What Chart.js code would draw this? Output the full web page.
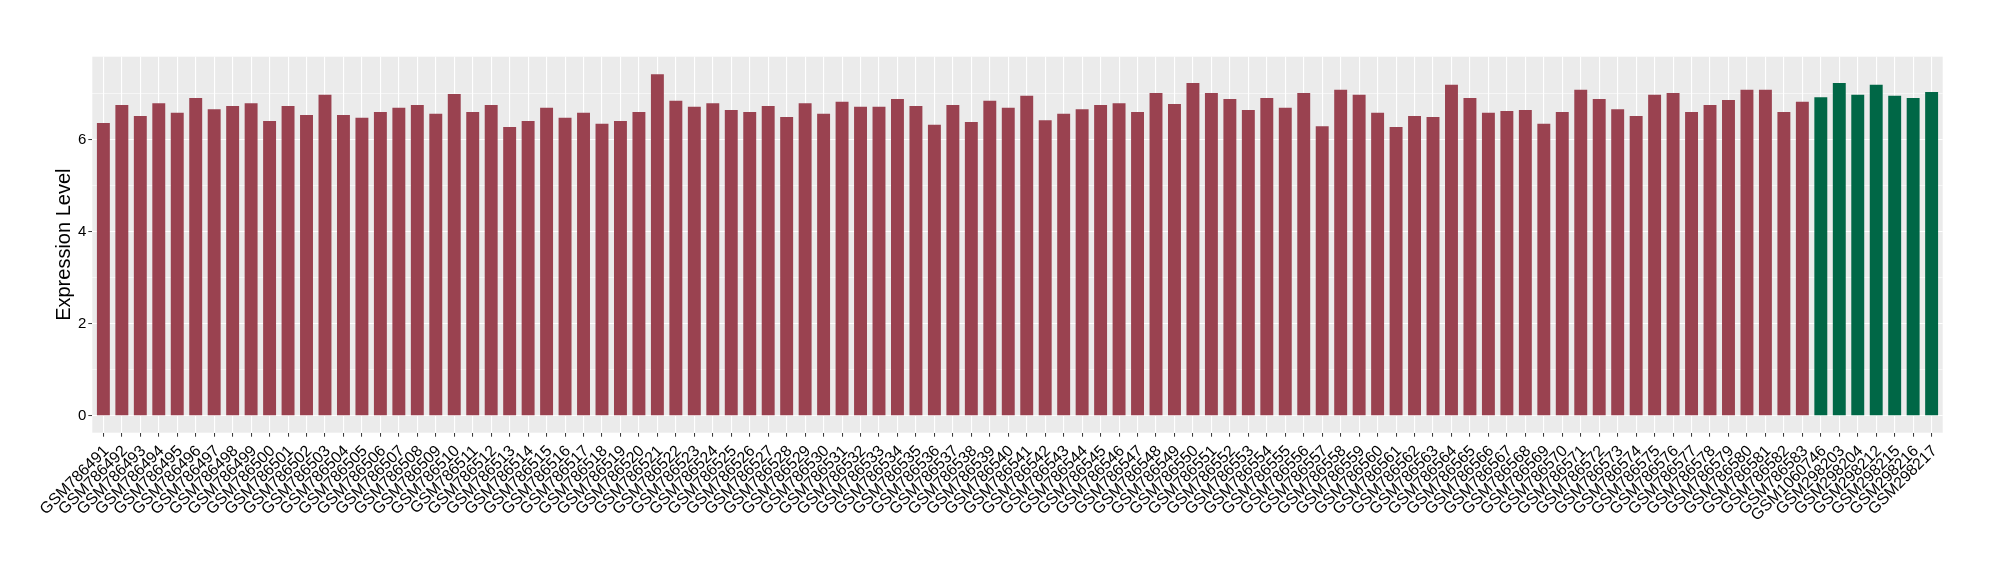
<!DOCTYPE html>
<html><head><meta charset="utf-8">
<script src="https://cdn.jsdelivr.net/npm/chart.js@4"></script>
<style>html,body{margin:0;padding:0;background:#fff}#wrap{width:2000px;height:580px}</style>
</head><body><div id="wrap"><canvas id="c" width="2000" height="580"></canvas></div>
<script>
const samples = [
  'GSM786491','GSM786492','GSM786493','GSM786494','GSM786495','GSM786496','GSM786497','GSM786498','GSM786499','GSM786500',
  'GSM786501','GSM786502','GSM786503','GSM786504','GSM786505','GSM786506','GSM786507','GSM786508','GSM786509','GSM786510',
  'GSM786511','GSM786512','GSM786513','GSM786514','GSM786515','GSM786516','GSM786517','GSM786518','GSM786519','GSM786520',
  'GSM786521','GSM786522','GSM786523','GSM786524','GSM786525','GSM786526','GSM786527','GSM786528','GSM786529','GSM786530',
  'GSM786531','GSM786532','GSM786533','GSM786534','GSM786535','GSM786536','GSM786537','GSM786538','GSM786539','GSM786540',
  'GSM786541','GSM786542','GSM786543','GSM786544','GSM786545','GSM786546','GSM786547','GSM786548','GSM786549','GSM786550',
  'GSM786551','GSM786552','GSM786553','GSM786554','GSM786555','GSM786556','GSM786557','GSM786558','GSM786559','GSM786560',
  'GSM786561','GSM786562','GSM786563','GSM786564','GSM786565','GSM786566','GSM786567','GSM786568','GSM786569','GSM786570',
  'GSM786571','GSM786572','GSM786573','GSM786574','GSM786575','GSM786576','GSM786577','GSM786578','GSM786579','GSM786580',
  'GSM786581','GSM786582','GSM786583','GSM1060746','GSM298203','GSM298204','GSM298212','GSM298215','GSM298216','GSM298217'
];
const expression = [
  6.37,6.76,6.52,6.80,6.59,6.91,6.67,6.74,6.80,6.41,
  6.74,6.54,6.98,6.54,6.48,6.61,6.70,6.76,6.57,7.00,
  6.61,6.76,6.28,6.41,6.70,6.48,6.59,6.35,6.41,6.61,
  7.43,6.85,6.72,6.80,6.65,6.61,6.74,6.50,6.80,6.57,
  6.83,6.72,6.72,6.89,6.74,6.33,6.76,6.39,6.85,6.70,
  6.96,6.43,6.57,6.67,6.76,6.80,6.61,7.02,6.78,7.24,
  7.02,6.89,6.65,6.91,6.70,7.02,6.30,7.09,6.98,6.59,
  6.28,6.52,6.50,7.20,6.91,6.59,6.63,6.65,6.35,6.61,
  7.09,6.89,6.67,6.52,6.98,7.02,6.61,6.76,6.87,7.09,
  7.09,6.61,6.83,6.93,7.24,6.98,7.20,6.96,6.91,7.04
];
const greenSamples = ['GSM1060746','GSM298203','GSM298204','GSM298212','GSM298215','GSM298216','GSM298217'];
const yTickValues = [0,1,2,3,4,5,6,7];
const yLabelValues = [0,2,4,6];

const MAROON = '#9A4250';
const GREEN = '#006746';
const FONT = '"Liberation Sans", Arial, Helvetica, sans-serif';

const panelBg = {
  id: 'panelBg',
  beforeDraw(chart) {
    const {ctx, chartArea: a} = chart;
    ctx.save();
    ctx.fillStyle = '#EBEBEB';
    ctx.fillRect(a.left, a.top, a.right - a.left, a.bottom - a.top);
    ctx.restore();
  }
};

new Chart(document.getElementById('c'), {
  type: 'bar',
  data: {
    datasets: [{
      data: samples.map((s, i) => ({x: i, y: expression[i]})),
      backgroundColor: samples.map(s => greenSamples.includes(s) ? GREEN : MAROON),
      barPercentage: 0.7,
      categoryPercentage: 1,
      borderWidth: 0
    }]
  },
  options: {
    responsive: false,
    animation: false,
    devicePixelRatio: 1,
    layout: {padding: {top: 56.7, right: 57.3, bottom: 0, left: 0}},
    plugins: {legend: {display: false}, tooltip: {enabled: false}},
    scales: {
      x: {
        type: 'linear',
        position: 'bottom',
        min: -0.6,
        max: 99.6,
        offset: false,
        afterBuildTicks: s => { s.ticks = samples.map((_, i) => ({value: i})); },
        afterFit: s => { s.height = 147.3; },
        ticks: {
          autoSkip: false, maxRotation: 45, minRotation: 45, padding: 5, labelOffset: 3,
          color: '#000000', font: {family: FONT, size: 16},
          callback: v => samples[v]
        },
        grid: {offset: false, color: '#ffffff', lineWidth: 1.1, tickColor: '#333333', tickLength: 4, tickWidth: 1},
        border: {display: false}
      },
      y: {
        min: -0.365,
        max: 7.81,
        afterBuildTicks: s => { s.ticks = yTickValues.map(v => ({value: v})); },
        afterFit: s => { s.width = 92.3; },
        ticks: {
          padding: 2, color: '#000000', font: {family: FONT, size: 15},
          callback: v => yLabelValues.includes(v) ? String(v) : ''
        },
        grid: {
          color: '#ffffff',
          lineWidth: c => (c.tick && c.tick.value % 2 === 0) ? 1.1 : 0.55,
          tickColor: c => (c.tick && c.tick.value % 2 === 0) ? '#333333' : 'rgba(0,0,0,0)',
          tickLength: 4, tickWidth: 1
        },
        border: {display: false},
        title: {display: true, text: 'Expression Level', color: '#000000', font: {family: FONT, size: 20}, padding: {top: 52.7, bottom: 0}}
      }
    }
  },
  plugins: [panelBg]
});
</script>
</body></html>
